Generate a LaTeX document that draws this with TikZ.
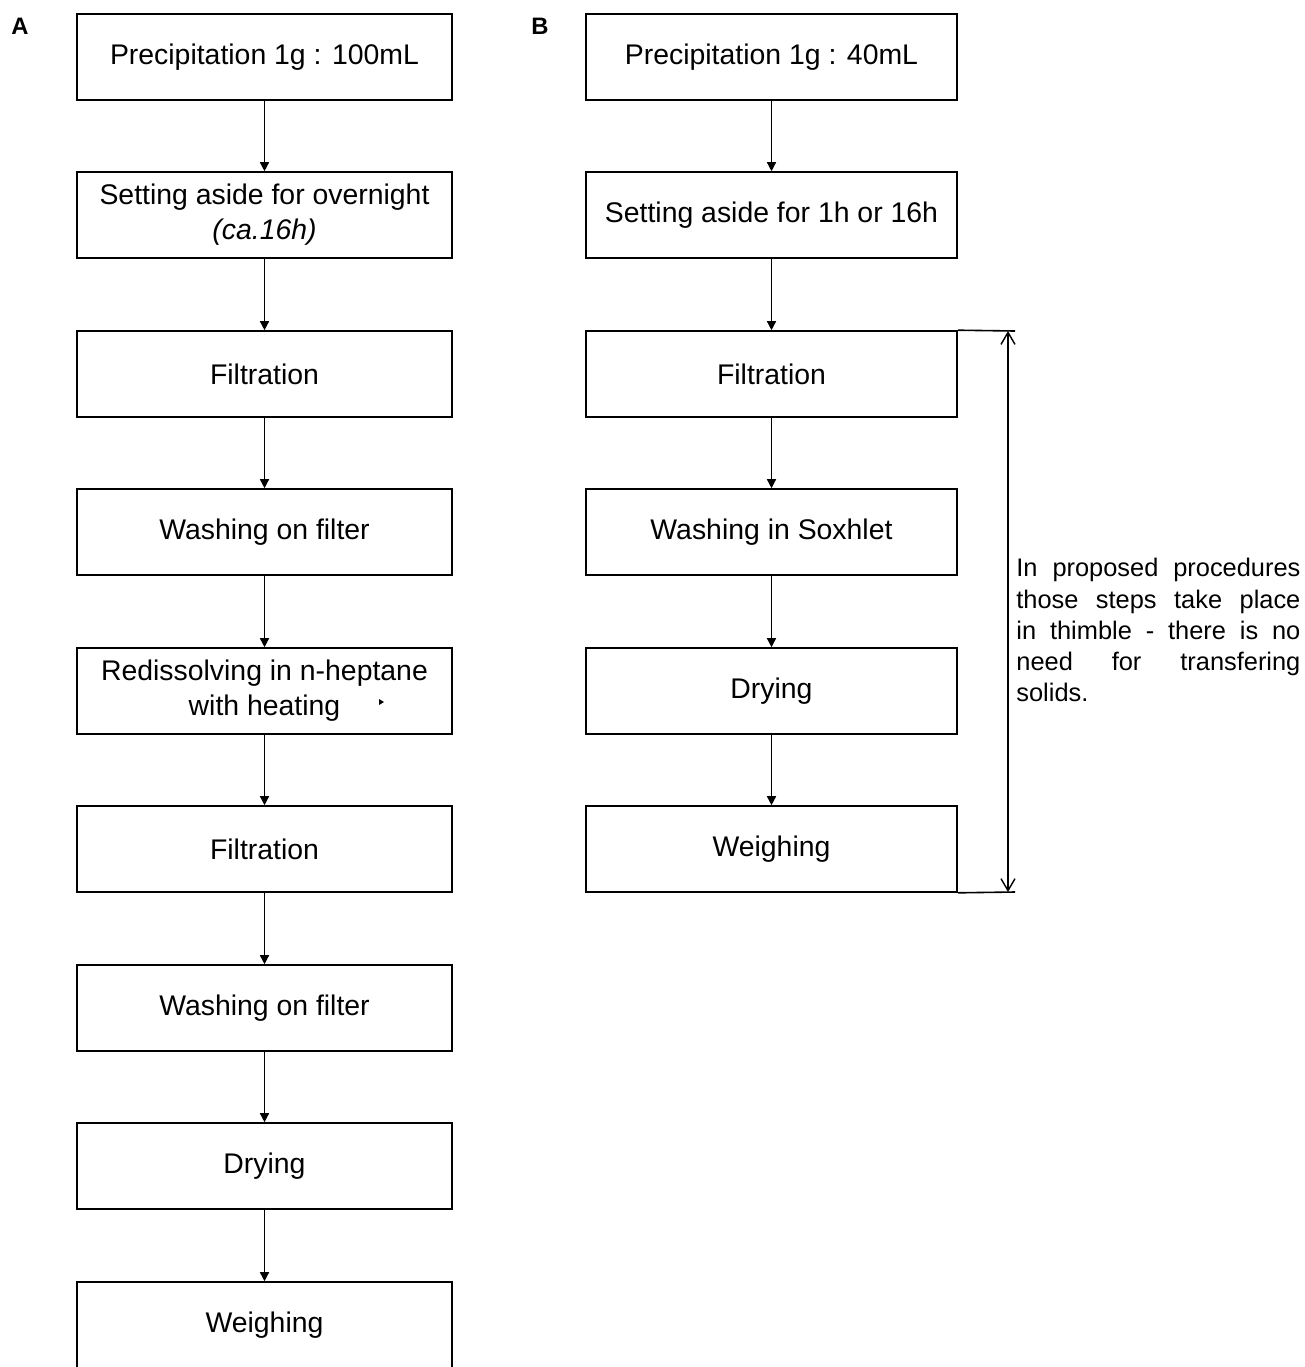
\documentclass[tikz,border=0pt]{standalone}
\usepackage{fontspec}
\setmainfont{Liberation Sans}
\usetikzlibrary{arrows.meta}
\begin{document}
\begin{tikzpicture}[x=0.5pt,y=-0.5pt,
  boxA/.style={draw, line width=0.8pt, minimum width=187.5pt, minimum height=43pt, inner sep=0pt, align=center, font=\fontsize{14.2}{17.5}\selectfont},
  boxB/.style={boxA, minimum width=185.5pt},
  flow/.style={line width=0.7pt, -{Triangle[length=4.5pt,width=4.5pt]}},
  dimline/.style={line width=0.7pt, {Straight Barb[length=6pt,width=7pt]}-{Straight Barb[length=6pt,width=7pt]}},
  extline/.style={line width=0.8pt},
  panel/.style={font=\fontsize{11.9}{14}\selectfont\bfseries, anchor=base west, inner sep=0pt},
  note/.style={text width=142pt, align=justify, anchor=north west, inner sep=0pt, font=\fontsize{12.7}{15.6}\selectfont}]
\useasboundingbox (0,0) rectangle (1305,1367);

\node[panel] (lA) at (11,34) {A};
\node[panel] (lB) at (531,34) {B};

% Column A
\node[boxA] (a1) at (264.5,57) {Precipitation 1g : 100mL};
\node[boxA] (a2) at (264.5,215) {Setting aside for overnight\\\textit{(ca.16h)}};
\node[boxA] (a3) at (264.5,374) {Filtration};
\node[boxA] (a4) at (264.5,532) {Washing on filter};
\node[boxA] (a5) at (264.5,691) {Redissolving in n-heptane\\with heating};
\node[boxA] (a6) at (264.5,849) {Filtration};
\node[boxA] (a7) at (264.5,1008) {Washing on filter};
\node[boxA] (a8) at (264.5,1166) {Drying};
\node[boxA] (a9) at (264.5,1325) {Weighing};
\fill (379,699) -- (384,702) -- (379,705) -- cycle;

\foreach \i/\j in {a1/a2,a2/a3,a3/a4,a4/a5,a5/a6,a6/a7,a7/a8,a8/a9}
  \draw[flow] (\i) -- (\j);

% Column B
\node[boxB] (b1) at (771.5,57) {Precipitation 1g : 40mL};
\node[boxB] (b2) at (771.5,215) {Setting aside for 1h or 16h};
\node[boxB] (b3) at (771.5,374) {Filtration};
\node[boxB] (b4) at (771.5,532) {Washing in Soxhlet};
\node[boxB] (b5) at (771.5,691) {Drying};
\node[boxB] (b6) at (771.5,849) {Weighing};

\foreach \i/\j in {b1/b2,b2/b3,b3/b4,b4/b5,b5/b6}
  \draw[flow] (\i) -- (\j);

% dimension
\coordinate (et) at (1015,331);
\coordinate (eb) at (1015,892);
\coordinate (dt) at (1008,331);
\coordinate (db) at (1008,892);
\draw[extline] (b3.north east) -- (et);
\draw[extline] (b6.south east) -- (eb);
\draw[dimline] (dt) -- (db);

\node[note] (n) at (1016,558) {In proposed procedures\linebreak those steps take place\linebreak in thimble - there is no\linebreak need for transfering\linebreak solids.};
\end{tikzpicture}
\end{document}
